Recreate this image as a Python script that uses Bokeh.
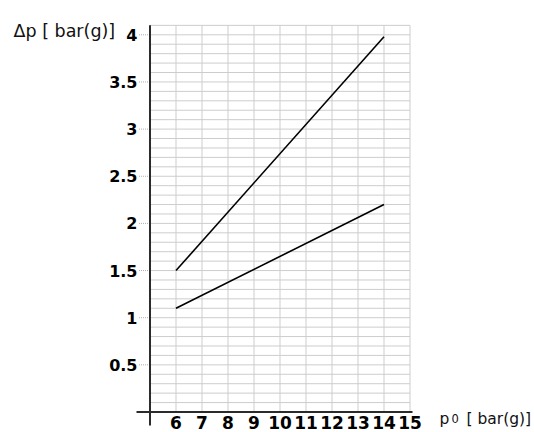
from bokeh.plotting import figure
from bokeh.models import Range1d, ColumnDataSource, LabelSet, Label
from bokeh.core.properties import value
from bokeh.embed import file_html
from bokeh.resources import INLINE

# ---- data ----
x_ticks = [6, 7, 8, 9, 10, 11, 12, 13, 14, 15]
x_labels = ["6", "7", "8", "9", "10", "11", "12", "13", "14", "15"]
y_ticks = [0.5, 1.0, 1.5, 2.0, 2.5, 3.0, 3.5, 4.0]
y_labels = ["0.5", "1", "1.5", "2", "2.5", "3", "3.5", "4"]
p0_upper = [6, 14]
dp_upper = [1.5, 3.98]
p0_lower = [6, 14]
dp_lower = [1.1, 2.2]
grid_x = [5, 6, 7, 8, 9, 10, 11, 12, 13, 14, 15]
grid_y = [round(0.1 * i, 1) for i in range(1, 42)]
x_min, x_max = 5, 15
y_min, y_max = 0, 4.1
y_title = "Δp [ bar(g)]"
x_title_main = "p"
x_title_sub = "0"
x_title_unit = "[ bar(g)]"

# ---- layout (frame covers the whole figure so that no text is clipped) ----
PX_X = 26.0      # pixels per bar on x
PX_Y = 94.3      # pixels per bar on y
W, H = 534, 432
ORIGIN_X, ORIGIN_Y = 149.5, 411.5   # pixel of (5, 0) from top-left
x_start = x_min - ORIGIN_X / PX_X
y_end = ORIGIN_Y / PX_Y
p = figure(frame_width=W, frame_height=H,
           x_range=Range1d(x_start, x_start + W / PX_X),
           y_range=Range1d(y_end - H / PX_Y, y_end),
           x_axis_type=None, y_axis_type=None,
           toolbar_location=None, output_backend="svg",
           min_border=0)
p.outline_line_color = None
p.background_fill_color = "white"
p.border_fill_color = "white"

GRID = "#cdcdcd"
# vertical grid lines
p.segment(x0=grid_x, x1=grid_x, y0=[y_min] * len(grid_x), y1=[y_max] * len(grid_x),
          line_color=GRID, line_width=1)
# horizontal grid lines
p.segment(x0=[x_min] * len(grid_y), x1=[x_max] * len(grid_y), y0=grid_y, y1=grid_y,
          line_color=GRID, line_width=1)

# small dotted tick marks left of y axis
p.segment(x0=[x_min - 11 / PX_X] * len(y_ticks), x1=[x_min - 2 / PX_X] * len(y_ticks),
          y0=y_ticks, y1=y_ticks, line_color="#b0b0b0", line_width=1, line_dash="1 1")

# axis lines (crossing)
p.segment(x0=[x_min - 13.5 / PX_X, x_min], x1=[x_max + 2.5 / PX_X, x_min],
          y0=[0, y_max], y1=[0, -13.5 / PX_Y],
          line_color="#2b2b2b", line_width=2)

# data lines
p.line(p0_upper, dp_upper, line_color="black", line_width=1.6)
p.line(p0_lower, dp_lower, line_color="black", line_width=1.6)

# tick labels
ysrc = ColumnDataSource(dict(x=[x_min] * len(y_ticks), y=y_ticks, text=y_labels))
p.add_layout(LabelSet(x="x", y="y", text="text", source=ysrc, x_offset=-12.5,
                      text_align="right", text_baseline="middle",
                      text_font=value("DejaVu Sans"), text_font_style="bold",
                      text_font_size="16px", text_color="black"))
xsrc = ColumnDataSource(dict(x=x_ticks, y=[0] * len(x_ticks), text=x_labels))
p.add_layout(LabelSet(x="x", y="y", text="text", source=xsrc, y_offset=-16.5,
                      text_align="center", text_baseline="alphabetic",
                      text_font=value("DejaVu Sans"), text_font_style="bold",
                      text_font_size="17px", text_color="black"))

# axis titles
p.add_layout(Label(x=x_min, y=y_max, x_offset=-136.5, y_offset=-5.5, text=y_title,
                   text_align="left", text_baseline="alphabetic",
                   text_font="DejaVu Sans", text_font_size="17.5px", text_color="#111111"))
p.add_layout(Label(x=x_max, y=0, x_offset=29.5, y_offset=-6.5, text=x_title_main,
                   text_align="left", text_baseline="alphabetic",
                   text_font="DejaVu Sans", text_font_size="15.5px", text_color="#111111"))
p.add_layout(Label(x=x_max, y=0, x_offset=41.5, y_offset=-6.5, text=x_title_sub,
                   text_align="left", text_baseline="alphabetic",
                   text_font="DejaVu Sans", text_font_size="11.5px", text_color="#111111"))
p.add_layout(Label(x=x_max, y=0, x_offset=56.5, y_offset=-6.5, text=x_title_unit,
                   text_align="left", text_baseline="alphabetic",
                   text_font="DejaVu Sans", text_font_size="15.5px", text_color="#111111"))

open("out.html", "w").write(file_html(p, INLINE))
